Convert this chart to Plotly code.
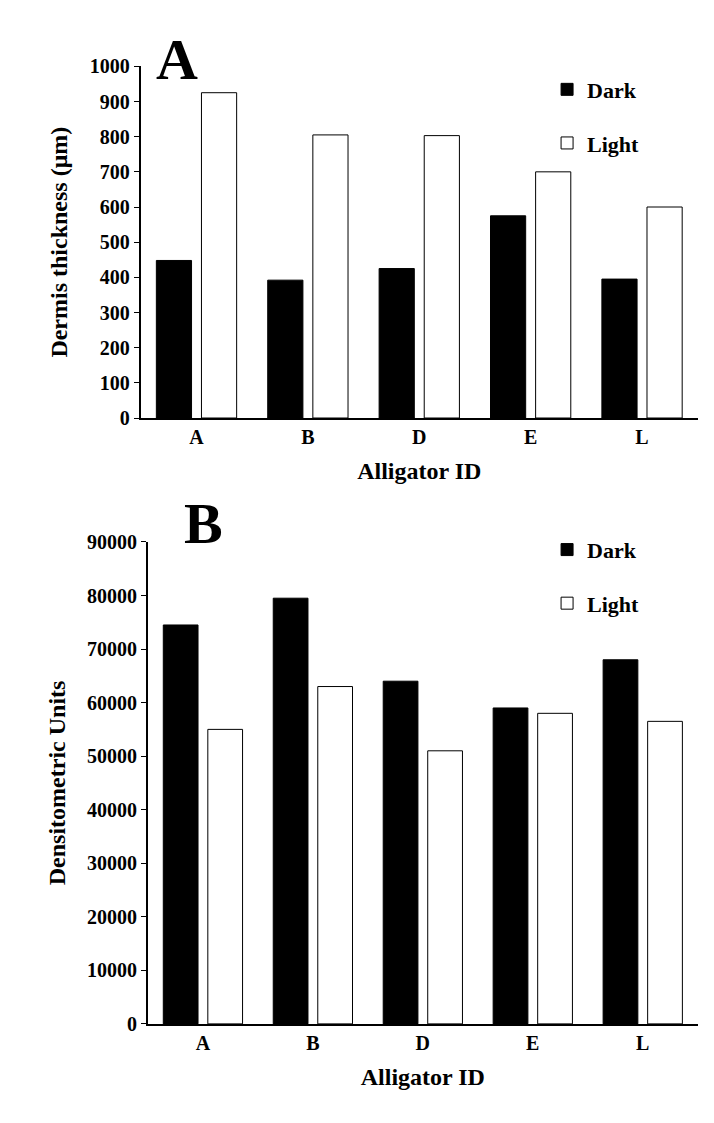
import plotly.graph_objects as go
from plotly.subplots import make_subplots

ids = ["A", "B", "D", "E", "L"]
thick_dark = [448, 392, 425, 575, 395]
thick_light = [925, 805, 803, 700, 600]
dens_dark = [74500, 79500, 64000, 59000, 68000]
dens_light = [55000, 63000, 51000, 58000, 56500]

F = "Liberation Serif"
fig = make_subplots(rows=2, cols=1)

line = dict(color="black", width=1)
fig.add_trace(go.Bar(x=ids, y=thick_dark, name="<b>Dark</b>", marker=dict(color="black", line=line),
                     legend="legend", legendgroup="a1"), row=1, col=1)
fig.add_trace(go.Bar(x=ids, y=thick_light, name="<b>Light</b>", marker=dict(color="white", line=line),
                     legend="legend", legendgroup="a2"), row=1, col=1)
fig.add_trace(go.Bar(x=ids, y=dens_dark, name="<b>Dark</b>", marker=dict(color="black", line=line),
                     legend="legend2", legendgroup="b1"), row=2, col=1)
fig.add_trace(go.Bar(x=ids, y=dens_light, name="<b>Light</b>", marker=dict(color="white", line=line),
                     legend="legend2", legendgroup="b2"), row=2, col=1)

axfont = dict(family=F, size=20, color="black")
titlefont = dict(family=F, size=24, color="black")
common = dict(showline=True, linecolor="black", linewidth=2, showgrid=False,
              tickfont=axfont, zeroline=False)

fig.update_xaxes(**common, ticks="", title_text="<b>Alligator ID</b>", title_font=titlefont,
                 tickprefix="<b>", ticksuffix="</b>")
fig.update_xaxes(domain=[0.186, 0.966], row=1, col=1)
fig.update_xaxes(domain=[0.196, 0.966], row=2, col=1)
fig.update_yaxes(**common, ticks="outside", ticklen=5, tickcolor="black", tickformat="d",
                 tickprefix="<b>", ticksuffix="</b>", title_font=titlefont)
fig.update_yaxes(domain=[0.6376, 0.957], range=[0, 1000], dtick=100,
                 title_text="<b>Dermis thickness (μm)</b>", row=1, col=1)
fig.update_yaxes(domain=[0.0873, 0.525], range=[0, 90000], dtick=10000,
                 title_text="<b>Densitometric Units</b>", row=2, col=1)

legcommon = dict(font=dict(family=F, size=22, color="black"), bgcolor="rgba(0,0,0,0)",
                 tracegroupgap=22, xanchor="left", yanchor="top")
fig.update_layout(
    width=714, height=1123, plot_bgcolor="white", paper_bgcolor="white",
    margin=dict(l=0, r=0, t=0, b=0), barmode="group", bargap=0.19, bargroupgap=0.22,
    legend=dict(x=0.755, y=0.955, **legcommon),
    legend2=dict(x=0.755, y=0.537, **legcommon),
    annotations=[
        dict(text="<b>A</b>", x=0.205, y=0.995, xref="paper", yref="paper", showarrow=False,
             xanchor="left", yanchor="top", font=dict(family=F, size=58, color="black")),
        dict(text="<b>B</b>", x=0.243, y=0.573, xref="paper", yref="paper", showarrow=False,
             xanchor="left", yanchor="top", font=dict(family=F, size=58, color="black")),
    ],
)

fig.write_html("out.html")
